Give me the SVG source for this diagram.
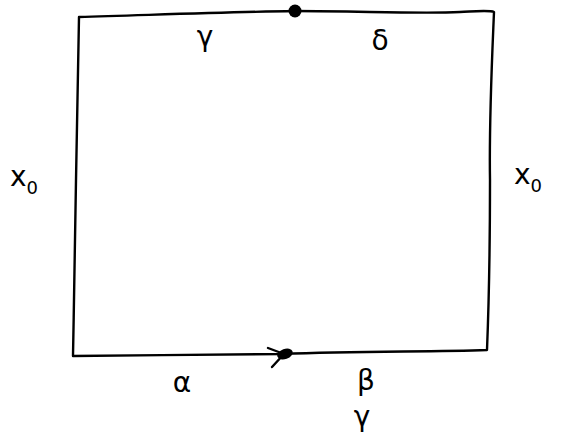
<svg xmlns="http://www.w3.org/2000/svg" width="565" height="442" viewBox="0 0 565 442">
<style>
.edge{fill:none;stroke:#000;stroke-width:2.4;stroke-linecap:round;stroke-linejoin:round}
.lbl{font-family:"DejaVu Sans",sans-serif;font-size:28px;fill:#000;text-anchor:middle}
.sub{font-size:18px}
</style>
<rect width="565" height="442" fill="#fff"/>
<g id="connectors">
<path class="edge" d="M79,17 C150,15 230,12 295,11 C360,11 420,14 460,12 C480,11 490,10 494,12 C492,60 489,120 490,180 C490,240 489,300 487,350 C430,352 360,351 282,354 C220,355 140,355 73,356 C74,300 75,250 76,180 C77,120 78,60 79,17 Z"/>
<path class="edge" d="M268,348 L284,354 L272,367" stroke-width="3"/>
</g>
<g id="node-dot-top"><ellipse cx="295" cy="11" rx="6.5" ry="6.5" fill="#000"/></g>
<g id="node-dot-bottom"><ellipse cx="285" cy="354" rx="8" ry="5" fill="#000" transform="rotate(-20 285 354)"/></g>
<g id="labels">
<text class="lbl" x="205" y="46">γ</text>
<text class="lbl" x="380" y="50">δ</text>
<text class="lbl" x="24" y="186">x<tspan class="sub" dy="8">0</tspan></text>
<text class="lbl" x="528" y="184">x<tspan class="sub" dy="8">0</tspan></text>
<text class="lbl" x="182" y="392">α</text>
<text class="lbl" x="366" y="390">β</text>
<text class="lbl" x="362" y="426">γ</text>
</g>
</svg>
